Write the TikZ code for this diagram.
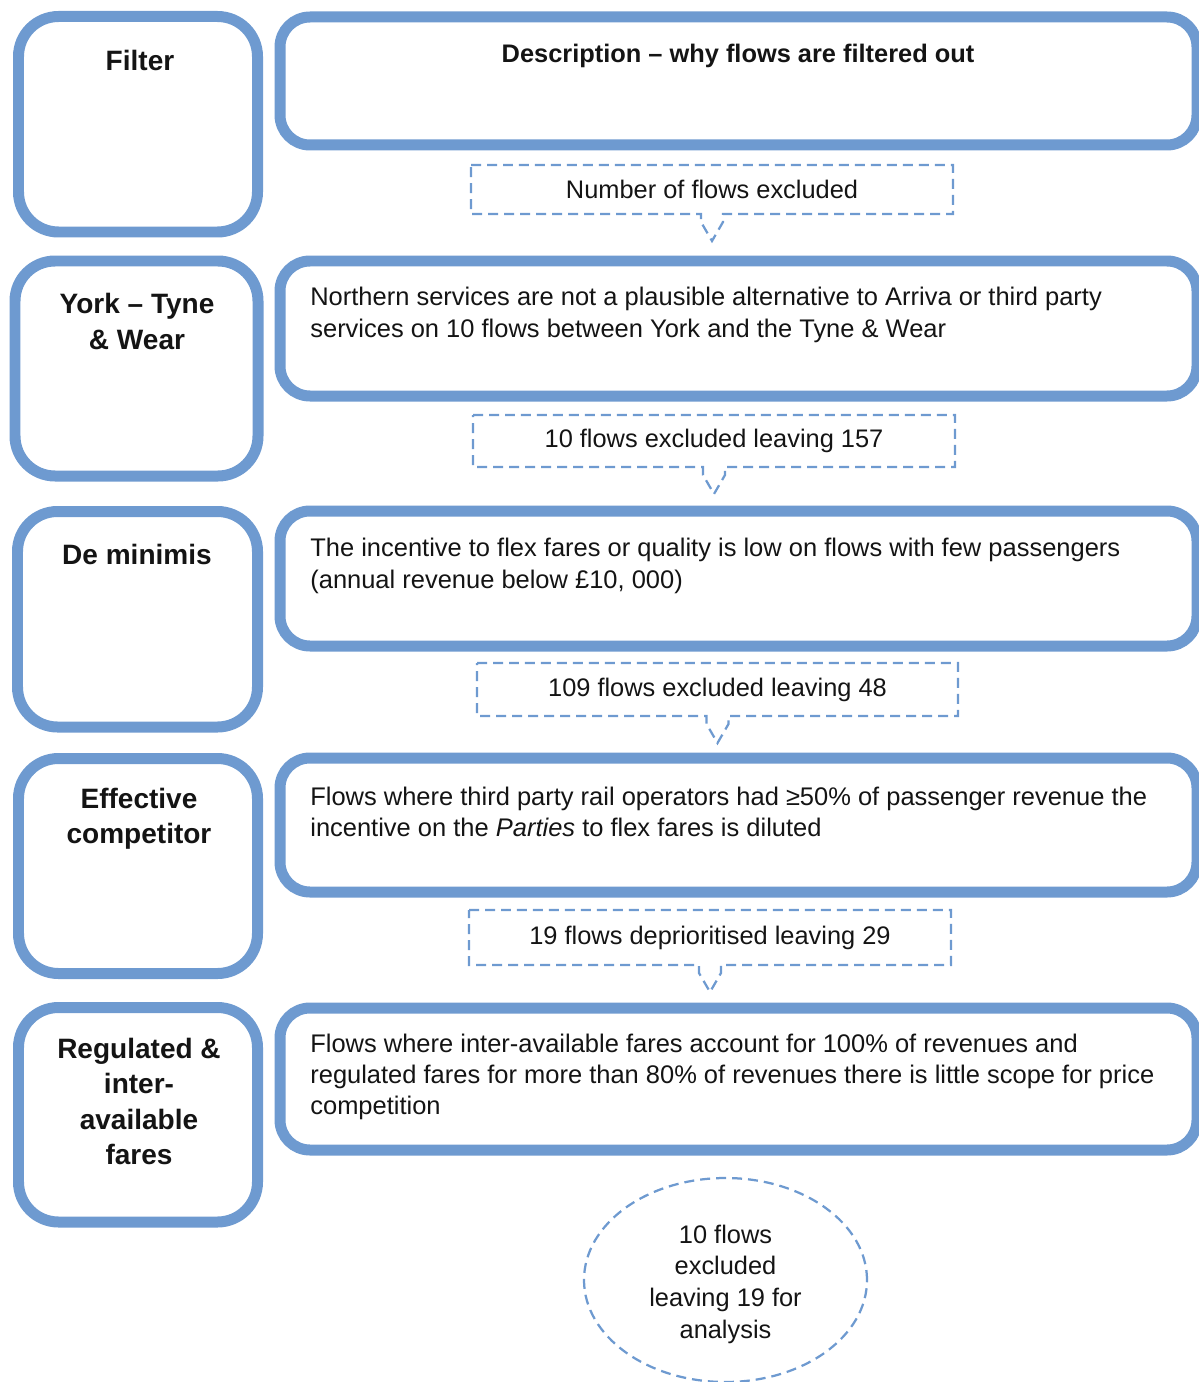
\documentclass[tikz,border=0pt]{standalone}
\usepackage{fontspec}
\setmainfont{Liberation Sans}
\usetikzlibrary{calc}
\definecolor{frameblue}{RGB}{110,154,208}
\definecolor{inkblack}{RGB}{20,20,20}
\tikzset{
  leftbox/.style={draw=frameblue, line width=0.22cm, rounded corners=0.8cm, inner sep=0pt, outer sep=0pt},
  rightbox/.style={draw=frameblue, line width=0.22cm, rounded corners=0.6cm, inner sep=0pt, outer sep=0pt},
  dashbox/.style={draw=none, inner sep=0pt, outer sep=0pt, minimum width=0.02cm*482, text=inkblack, font=\fontsize{14.45pt}{17.8pt}\selectfont},
  dashline/.style={draw=frameblue, line width=0.045cm, dash pattern=on 0.2cm off 0.12cm},
  lefttext/.style={align=center, inner sep=0pt, text=inkblack, font=\bfseries\fontsize{15.95pt}{20.2pt}\selectfont},
  righttext/.style={align=left, anchor=west, inner sep=0pt, text=inkblack, font=\fontsize{14.5pt}{17.8pt}\selectfont},
}
\begin{document}
\begin{tikzpicture}[x=0.02cm, y=-0.02cm]
\useasboundingbox (0,0) rectangle (1198,1382);
% left boxes
\node[leftbox, minimum width=0.02cm*239, minimum height=0.02cm*215.5] (L1) at (138,124.25) {};
\node[leftbox, minimum width=0.02cm*243, minimum height=0.02cm*215] (L2) at (136.5,368.5) {};
\node[leftbox, minimum width=0.02cm*240, minimum height=0.02cm*215.5] (L3) at (137.5,619.25) {};
\node[leftbox, minimum width=0.02cm*239, minimum height=0.02cm*215] (L4) at (138,866) {};
\node[leftbox, minimum width=0.02cm*239, minimum height=0.02cm*214.5] (L5) at (138,1114.75) {};
% right boxes
\node[rightbox, minimum width=0.02cm*917, minimum height=0.02cm*128] (R1) at (738.5,81) {};
\node[rightbox, minimum width=0.02cm*917, minimum height=0.02cm*135] (R2) at (738.5,328.5) {};
\node[rightbox, minimum width=0.02cm*917, minimum height=0.02cm*135] (R3) at (738.5,578.5) {};
\node[rightbox, minimum width=0.02cm*917, minimum height=0.02cm*134] (R4) at (738.5,825) {};
\node[rightbox, minimum width=0.02cm*917, minimum height=0.02cm*142] (R5) at (738.5,1079) {};
% left texts
\node[lefttext] (t1) at (140,60.5) {Filter};
\node[lefttext] (t2) at (137,321.5) {York – Tyne\\\& Wear};
\node[lefttext] (t3) at (137,554.5) {De minimis};
\node[lefttext] (t4) at (139,819) {Effective\\competitor};
\node[lefttext] (t5) at (139,1101.5) {Regulated \&\\inter-\\available\\fares};
% right texts
\node[inner sep=0pt, text=inkblack, font=\bfseries\fontsize{14.45pt}{17.8pt}\selectfont] (h1) at (738,55.5) {Description – why flows are filtered out};
\node[righttext] (d2) at (310,315) {Northern services are not a plausible alternative to Arriva or third party\\services on 10 flows between York and the Tyne \& Wear};
\node[righttext] (d3) at (310,566) {The incentive to flex fares or quality is low on flows with few passengers\\(annual revenue below £10, 000)};
\node[righttext] (d4) at (310,812) {Flows where third party rail operators had ≥50\% of passenger revenue the\\incentive on the \textit{Parties} to flex fares is diluted};
\node[righttext] (d5) at (310,1077) {Flows where inter-available fares account for 100\% of revenues and\\regulated fares for more than 80\% of revenues there is little scope for price\\competition};
% dashed callouts
\node[dashbox, minimum height=0.02cm*49] (n1) at (712,189.5) {\raisebox{-0.04cm}{Number of flows excluded}};
\node[dashbox, minimum height=0.02cm*52] (n2) at (714,441) {\raisebox{-0.04cm}{10 flows excluded leaving 157}};
\node[dashbox, minimum height=0.02cm*53, minimum width=0.02cm*481] (n3) at (717.5,689.5) {\raisebox{-0.04cm}{109 flows excluded leaving 48}};
\node[dashbox, minimum height=0.02cm*55] (n4) at (710,937.5) {\raisebox{-0.04cm}{19 flows deprioritised leaving 29}};
\foreach \n in {n1,n2,n3,n4}{
  \draw[dashline] (\n.north west) -- (\n.north east) -- (\n.south east)
    -- ($(\n.south)+(11,0)$) -- ($(\n.south)+(11,8)$) -- ($(\n.south)+(0,27)$)
    -- ($(\n.south)+(-11,8)$) -- ($(\n.south)+(-11,0)$) -- (\n.south west) -- cycle;
}
% final ellipse
\draw[dashline] (725.5,1280) ellipse [x radius=0.02cm*141.5, y radius=0.02cm*102];
\node[align=center, inner sep=0pt, text=inkblack, font=\fontsize{14.45pt}{18pt}\selectfont] (e1) at (725.5,1284) {10 flows\\excluded\\leaving 19 for\\analysis};
\end{tikzpicture}
\end{document}
